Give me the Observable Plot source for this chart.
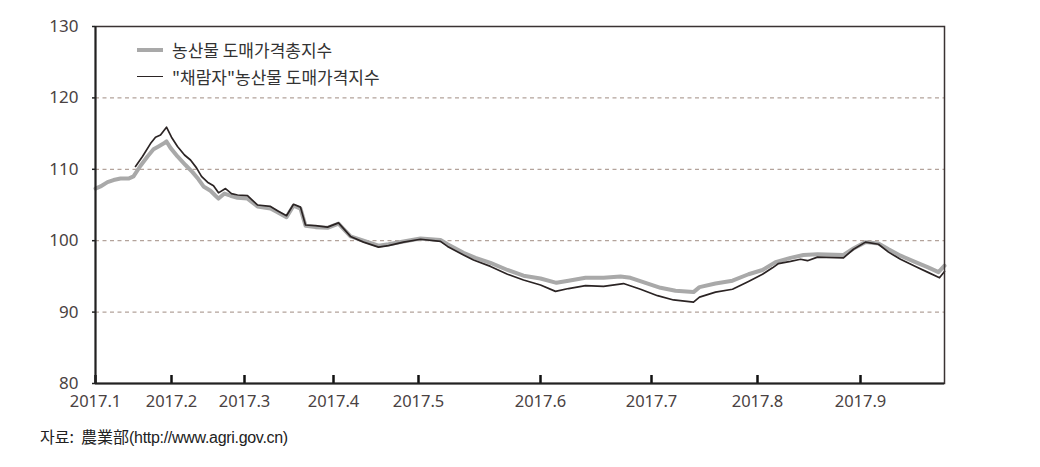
<!DOCTYPE html>
<html>
<head>
<meta charset="utf-8">
<script src="https://cdn.jsdelivr.net/npm/d3@7"></script>
<script src="https://cdn.jsdelivr.net/npm/@observablehq/plot@0.6"></script>
<style>
  html, body { margin: 0; padding: 0; background: #fff; }
  #wrap { position: relative; width: 1040px; height: 467px; }
  #legend { position: absolute; left: 137px; top: 36px; font-family: "Noto Sans CJK KR", sans-serif; font-size: 17px; color: #333; line-height: 27px; }
  #legend .row { display: flex; align-items: center; white-space: pre; }
  #legend .sw { display: inline-block; width: 26px; margin-right: 9px; }
  #caption { position: absolute; left: 40px; top: 424px; font-family: "Noto Sans CJK KR", sans-serif; font-size: 16px; color: #222; white-space: pre; }
  #caption .url { font-family: "Liberation Sans Narrow", "Liberation Sans", sans-serif; letter-spacing: -0.3px; }
</style>
</head>
<body>
<div id="wrap">
  <div id="chart"></div>
  <div id="legend"></div>
  <div id="caption"></div>
</div>
<script>
// x: position along the (uneven) time axis, in day-index units
const tickPositions = [0, 76, 149, 238, 323, 445, 556, 662, 765];
const tickLabels = ["2017.1", "2017.2", "2017.3", "2017.4", "2017.5", "2017.6", "2017.7", "2017.8", "2017.9"];
const yTicks = [80, 90, 100, 110, 120, 130];
const gridValues = [90, 100, 110, 120];

const seriesNames = ["농산물 도매가격총지수", "\"채람자\"농산물 도매가격지수"];

// 농산물 도매가격총지수 (gray)
const totalX = [0, 5, 12, 18, 25, 33, 38, 45, 52, 58, 63, 68, 71, 75, 82, 90, 97, 103, 108, 115, 120, 123, 129, 135, 142, 152, 162, 175, 182, 191, 198, 205, 210, 220, 232, 243, 255, 268, 283, 293, 308, 325, 345, 352, 368, 380, 395, 412, 428, 445, 461, 473, 490, 508, 525, 535, 550, 565, 580, 598, 604, 620, 637, 653, 667, 680, 695, 708, 722, 748, 758, 770, 783, 793, 805, 820, 832, 843, 849];
const totalY = [107.3, 107.6, 108.2, 108.5, 108.7, 108.7, 109.0, 110.5, 111.8, 112.8, 113.2, 113.6, 113.9, 113.0, 111.8, 110.6, 109.6, 108.6, 107.6, 107.0, 106.3, 105.9, 106.6, 106.3, 106.0, 105.9, 104.8, 104.5, 104.0, 103.3, 104.9, 104.5, 102.1, 101.9, 101.8, 102.4, 100.6, 100.0, 99.3, 99.5, 99.9, 100.3, 100.1, 99.5, 98.3, 97.6, 96.9, 95.9, 95.1, 94.7, 94.1, 94.4, 94.8, 94.8, 95.0, 94.8, 94.1, 93.4, 93.0, 92.8, 93.5, 94.0, 94.4, 95.3, 95.9, 97.0, 97.6, 98.0, 98.1, 98.0, 98.9, 99.8, 99.6, 98.8, 97.9, 97.0, 96.3, 95.6, 96.5];

// "채람자"농산물 도매가격지수 (black)
const basketX = [40, 47, 55, 60, 65, 71, 76, 82, 89, 95, 101, 106, 112, 118, 123, 130, 136, 142, 152, 162, 175, 182, 191, 198, 205, 210, 220, 232, 243, 255, 268, 283, 293, 308, 325, 345, 352, 368, 378, 395, 412, 428, 445, 460, 473, 490, 508, 528, 545, 562, 578, 598, 604, 620, 637, 653, 667, 677, 683, 695, 705, 712, 722, 748, 758, 770, 783, 793, 805, 820, 832, 844, 849];
const basketY = [110.4, 111.8, 113.6, 114.5, 114.8, 115.9, 114.5, 113.2, 112.0, 111.3, 110.2, 109.0, 108.2, 107.7, 106.7, 107.3, 106.6, 106.4, 106.3, 105.0, 104.8, 104.2, 103.5, 105.1, 104.7, 102.2, 102.1, 101.9, 102.5, 100.6, 99.8, 99.1, 99.3, 99.8, 100.2, 99.9, 99.2, 98.0, 97.3, 96.4, 95.3, 94.5, 93.8, 92.9, 93.3, 93.7, 93.6, 94.0, 93.2, 92.3, 91.7, 91.4, 92.1, 92.8, 93.2, 94.3, 95.3, 96.2, 96.8, 97.1, 97.4, 97.2, 97.7, 97.6, 98.8, 99.8, 99.5, 98.4, 97.4, 96.4, 95.6, 94.8, 95.7];

const colors = ["#a9a9a9", "#2b2424"];
const widths = [4, 1.7];

const total = totalX.map((x, i) => ({x, y: totalY[i]}));
const basket = basketX.map((x, i) => ({x, y: basketY[i]}));

const labelColor = "#4a4242";
const chart = Plot.plot({
  width: 1040,
  height: 415,
  marginLeft: 95,
  marginRight: 96,
  marginTop: 26,
  marginBottom: 32,
  style: {fontFamily: "'Noto Sans', 'DejaVu Sans', sans-serif", fontSize: "16px", color: labelColor, background: "#fff"},
  x: {domain: [0, 849], label: null},
  y: {domain: [80, 130], label: null},
  marks: [
    Plot.ruleY(gridValues, {stroke: "#b3a39b", strokeWidth: 1.2, strokeDasharray: "4,3.5"}),
    Plot.line(total, {x: "x", y: "y", stroke: colors[0], strokeWidth: widths[0], strokeLinejoin: "round"}),
    Plot.line(basket, {x: "x", y: "y", stroke: colors[1], strokeWidth: widths[1], strokeLinejoin: "round"}),
    Plot.frame({stroke: "#3a3333", strokeWidth: 1.5}),
    Plot.axisY({ticks: yTicks, label: null, tickSize: 3, tickPadding: 14, strokeWidth: 1.5, stroke: "#222", fill: labelColor, fontSize: 17}),
    Plot.axisX({ticks: tickPositions, label: null, tickFormat: (d) => tickLabels[tickPositions.indexOf(d)], tickSize: -8, tickPadding: 20, strokeWidth: 2.5, stroke: "#111", fill: labelColor, fontSize: 16.5}),
    Plot.ruleX([0], {stroke: "#222", strokeWidth: 2}),
    Plot.ruleY([80], {stroke: "#222", strokeWidth: 2})
  ]
});
document.getElementById("chart").appendChild(chart);

// legend (inside the plot area, top-left)
const legend = document.getElementById("legend");
seriesNames.forEach((name, i) => {
  const row = document.createElement("div");
  row.className = "row";
  const sw = document.createElement("span");
  sw.className = "sw";
  sw.style.height = widths[i] + "px";
  sw.style.background = colors[i];
  const t = document.createElement("span");
  t.textContent = name;
  row.appendChild(sw);
  row.appendChild(t);
  legend.appendChild(row);
});

// caption
const cap = document.getElementById("caption");
const capA = document.createElement("span");
capA.textContent = "자료:  農業部";
const capB = document.createElement("span");
capB.className = "url";
capB.textContent = "(http://www.agri.gov.cn)";
cap.appendChild(capA);
cap.appendChild(capB);
</script>
</body>
</html>
